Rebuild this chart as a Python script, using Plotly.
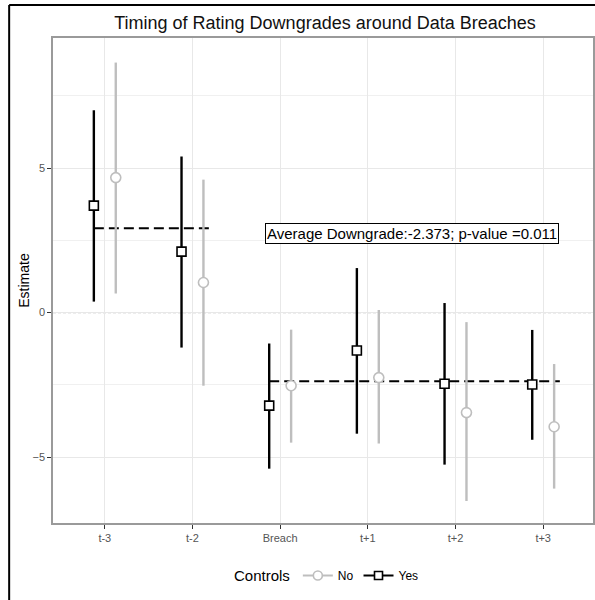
import plotly.graph_objects as go

# ---- data ----
categories = ["t-3", "t-2", "Breach", "t+1", "t+2", "t+3"]
yes_est = [3.70, 2.11, -3.22, -1.31, -2.46, -2.49]
yes_lo = [0.38, -1.21, -5.40, -4.19, -5.26, -4.40]
yes_hi = [7.00, 5.40, -1.07, 1.54, 0.33, -0.60]
no_est = [4.67, 1.04, -2.53, -2.25, -3.46, -3.95]
no_lo = [0.66, -2.53, -4.50, -4.53, -6.52, -6.09]
no_hi = [8.65, 4.60, -0.59, 0.09, -0.33, -1.78]
pre_avg = 2.92
post_avg = -2.373
pre_span = ["t-3", "t-2"]
post_span = ["Breach", "t+3"]
label_text = "Average Downgrade:-2.373; p-value =0.011"

# ---- layout helpers ----
idx = list(range(len(categories)))
dodge = 0.125
x_yes = [i - dodge for i in idx]
x_no = [i + dodge for i in idx]
seg_ext = 0.19

BLACK = "#000000"
GREY = "#bebebe"

fig = go.Figure()

# dashed averages
for span, val in ((pre_span, pre_avg), (post_span, post_avg)):
    a = categories.index(span[0]) - dodge
    b = categories.index(span[1]) + seg_ext
    fig.add_trace(go.Scatter(x=[a, b], y=[val, val], mode="lines",
                             line=dict(color=BLACK, width=2, dash="10px,5px"),
                             showlegend=False, hoverinfo="skip"))

# No controls
fig.add_trace(go.Scatter(
    x=x_no, y=no_est, mode="markers", showlegend=False,
    marker=dict(symbol="circle", size=10, color="white",
                line=dict(color=GREY, width=1.6)),
    error_y=dict(type="data", symmetric=False,
                 array=[h - e for h, e in zip(no_hi, no_est)],
                 arrayminus=[e - l for e, l in zip(no_est, no_lo)],
                 color=GREY, thickness=2.4, width=0)))

# Yes controls
fig.add_trace(go.Scatter(
    x=x_yes, y=yes_est, mode="markers", showlegend=False,
    marker=dict(symbol="square", size=9, color="white",
                line=dict(color=BLACK, width=1.6)),
    error_y=dict(type="data", symmetric=False,
                 array=[h - e for h, e in zip(yes_hi, yes_est)],
                 arrayminus=[e - l for e, l in zip(yes_est, yes_lo)],
                 color=BLACK, thickness=2.4, width=0)))

# legend entries
fig.add_trace(go.Scatter(x=[None], y=[None], mode="lines+markers", name="No",
                         line=dict(color=GREY, width=2),
                         marker=dict(symbol="circle", size=9, color="white",
                                     line=dict(color=GREY, width=1.6))))
fig.add_trace(go.Scatter(x=[None], y=[None], mode="lines+markers", name="Yes",
                         line=dict(color=BLACK, width=2),
                         marker=dict(symbol="square", size=8, color="white",
                                     line=dict(color=BLACK, width=1.6))))

W, H = 595, 600
ml, mr, mt, mb = 53, 0, 38, 77
pw = W - ml - mr
ph = H - mt - mb
px_per_unit = 88.0
x0 = -(105 - 53) / px_per_unit
x1 = x0 + pw / px_per_unit

fig.update_layout(
    width=W, height=H,
    margin=dict(l=ml, r=mr, t=mt, b=mb),
    paper_bgcolor="white", plot_bgcolor="white",
    font=dict(family="Liberation Sans, Arial, sans-serif", color="#000"),
    title=dict(text="Timing of Rating Downgrades around Data Breaches",
               x=325 / W, xanchor="center", y=1 - 23 / H, yanchor="middle",
               font=dict(size=18, color="#111")),
    showlegend=True,
    legend=dict(orientation="h", x=(329 - ml) / pw, xanchor="center",
                y=(ph - (576 - mt)) / ph, yanchor="middle",
                title=dict(text="Controls", font=dict(size=15), side="left"),
                font=dict(size=12), itemwidth=30, traceorder="normal"),
    xaxis=dict(range=[x0, x1], tickvals=idx, ticktext=categories,
               showgrid=True, gridcolor="#e8e8e8", gridwidth=1,
               zeroline=False, showline=True, linecolor="#9a9a9a", linewidth=1.5,
               mirror=True, ticks="outside", ticklen=4, tickcolor="#333",
               tickfont=dict(size=11, color="#555")),
    yaxis=dict(range=[-7.28, 9.50], tickvals=[-5, 0, 5],
               showgrid=True, gridcolor="#e8e8e8", gridwidth=1,
               minor=dict(tickvals=[-2.5, 2.5, 7.5], showgrid=True,
                          gridcolor="#f0f0f0", gridwidth=1),
               zeroline=False, showline=True, linecolor="#9a9a9a", linewidth=1.5,
               mirror=True, ticks="outside", ticklen=4, tickcolor="#333",
               tickfont=dict(size=11, color="#555"),
               title=dict(text="Estimate", font=dict(size=14), standoff=0)),
)

# zero reference line
fig.add_shape(type="line", xref="paper", yref="y", x0=0, x1=1, y0=0, y1=0,
              line=dict(color="#222", width=1, dash="3px,2px"), layer="below")

# outer frame (left and top edges; the rest lies outside the visible page)
fx = (9 - ml) / pw
fy = (ph + mt - 5) / ph
fig.add_shape(type="line", xref="paper", yref="paper", x0=fx, x1=fx, y0=-0.3, y1=fy,
              line=dict(color=BLACK, width=2))
fig.add_shape(type="line", xref="paper", yref="paper", x0=fx, x1=1.2, y0=fy, y1=fy,
              line=dict(color=BLACK, width=2))

fig.add_annotation(x=3.5, y=2.75, xref="x", yref="y", text=label_text,
                   showarrow=False, font=dict(size=15, color="#000"),
                   bgcolor="white", bordercolor=BLACK, borderwidth=1, borderpad=1)

fig.write_html("out.html")
